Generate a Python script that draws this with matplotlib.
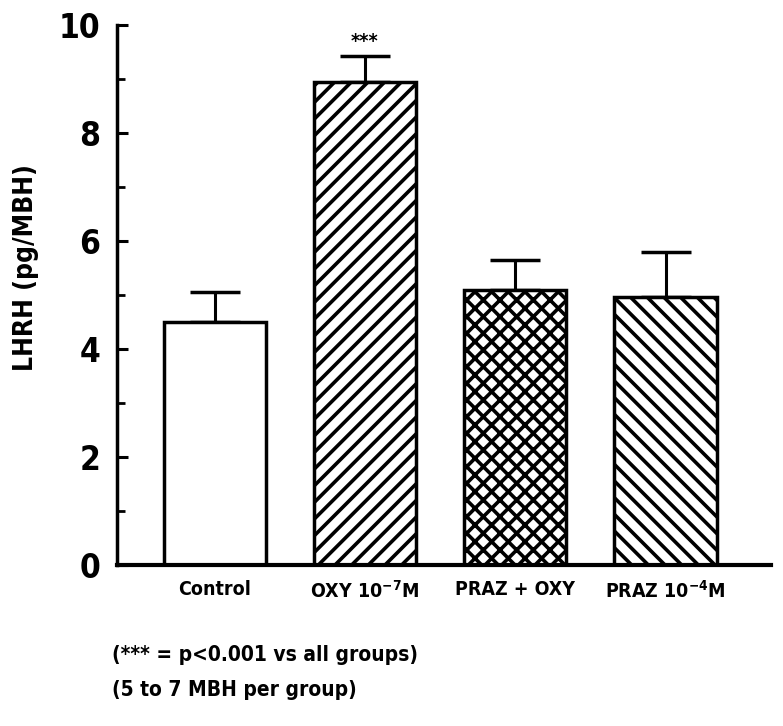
import matplotlib
matplotlib.use("Agg")
import matplotlib.pyplot as plt
import numpy as np

plt.rcParams['font.family'] = ['DejaVu Sans']
plt.rcParams['font.stretch'] = 'condensed'
plt.rcParams['font.weight'] = 'bold'
plt.rcParams['hatch.linewidth'] = 2.6

# data
groups = ["Control", "OXY 10$^{-7}$M", "PRAZ + OXY", "PRAZ 10$^{-4}$M"]
lhrh = [4.5, 8.95, 5.1, 4.97]
sem = [0.55, 0.47, 0.55, 0.82]
hatches = ['', '//', 'xx', '\\\\']
y_ticks = [0, 2, 4, 6, 8, 10]

fig = plt.figure(figsize=(7.83, 7.26), dpi=100)
ax = fig.add_axes([0.1494, 0.2218, 0.835, 0.7438])

x = np.arange(len(groups))
for xi, val, h in zip(x, lhrh, hatches):
    ax.bar(xi, val, width=0.68, color='white', edgecolor='black',
           linewidth=2.5, hatch=h, zorder=2)

ax.errorbar(x, lhrh, yerr=[np.zeros(len(sem)), sem], fmt='none',
            ecolor='black', elinewidth=2.2, capsize=18, capthick=2.5, zorder=1)

# significance marker
ax.text(x[1], lhrh[1] + sem[1] + 0.1, "***", ha='center', va='bottom',
        fontsize=14, fontweight='bold')

ax.set_xlim(-0.65, 3.7)
ax.set_ylim(0, 10)
ax.set_yticks(y_ticks)
ax.set_yticks([1, 3, 5, 7, 9], minor=True)
ax.set_yticklabels([str(t) for t in y_ticks], fontsize=24)
ax.tick_params(axis='y', which='major', direction='in', length=8, width=2.2, pad=12)
ax.tick_params(axis='y', which='minor', direction='in', length=6, width=2)
ax.set_xticks(x)
ax.set_xticklabels(groups, fontsize=14)
ax.tick_params(axis='x', length=0, pad=11)

for s in ['top', 'right']:
    ax.spines[s].set_visible(False)
ax.spines['left'].set_linewidth(2.5)
ax.spines['bottom'].set_linewidth(3)

ax.set_ylabel("LHRH (pg/MBH)", fontsize=19, fontweight='bold')
ax.yaxis.set_label_coords(-0.12, 0.55)

fig.text(0.143, 0.098, "(*** = p<0.001 vs all groups)", fontsize=15, va='center')
fig.text(0.143, 0.050, "(5 to 7 MBH per group)", fontsize=15, va='center')

fig.savefig("out.png", dpi=100)
